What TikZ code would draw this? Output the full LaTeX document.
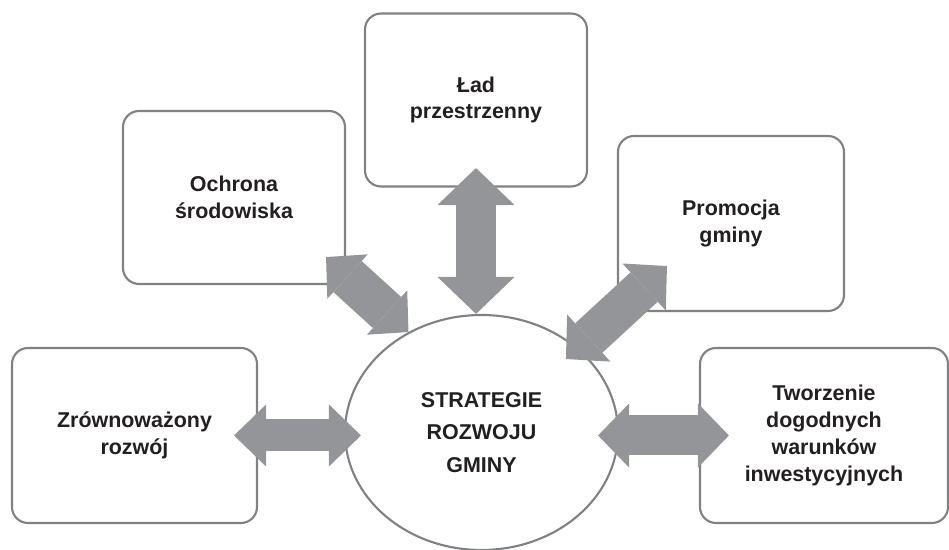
\documentclass[tikz,border=0pt]{standalone}
\usepackage{fontspec}
\setmainfont{Liberation Sans}
\usepackage{tikz}
\usetikzlibrary{arrows.meta,shapes.geometric}
\definecolor{sgborder}{RGB}{128,129,132}
\definecolor{sgarrow}{RGB}{148,149,152}
\definecolor{sgtext}{RGB}{35,31,32}

\begin{document}
\begin{tikzpicture}[
  font=\fontsize{12.2}{15.3}\selectfont\bfseries,
  box/.style={rectangle, rounded corners=3.2mm, draw=sgborder, line width=1.2pt,
    fill=white, text=sgtext, align=center, inner sep=2pt, minimum height=3.5cm},
  hub/.style={ellipse, draw=sgborder, line width=1.2pt, fill=white, text=sgtext,
    align=center, inner sep=0pt, font=\fontsize{12.2}{18.7}\selectfont\bfseries},
  dblarr/.style n args={3}{draw=sgarrow, line width=#1,
    {Triangle[length=#3, width=#2, line width=0pt]}-{Triangle[length=#3, width=#2, line width=0pt]}}
]
\useasboundingbox (0,0) rectangle (18.98,11);

\node[box, minimum width=4.9cm] (zr) at (2.69,2.29) {Zrównoważony\\rozwój};
\node[box, minimum width=4.44cm, minimum height=3.46cm] (och) at (4.68,7.05) {Ochrona\\środowiska};
\node[box, minimum width=4.44cm, minimum height=3.46cm] (lad) at (9.52,9.0) {Ład\\przestrzenny};
\node[box, minimum width=4.52cm] (pro) at (14.62,6.53) {Promocja\\gminy};
\node[box, minimum width=4.96cm] (tw) at (16.48,2.29) {Tworzenie\\dogodnych\\warunków\\inwestycyjnych};
\node[hub, minimum width=5.46cm, minimum height=4.7cm] (str) at (9.63,2.35) {STRATEGIE\\ROZWOJU\\GMINY};

% double arrows between the hub and the boxes
\draw[dblarr={0.64cm}{1.24cm}{0.64cm}] ([xshift=-0.48cm]zr.east) -- ([xshift=0.34cm]zr.east -| str.west);
\draw[dblarr={0.8cm}{1.28cm}{0.62cm}] ([xshift=-0.42cm]str.east |- tw.west) -- ([xshift=0.6cm]tw.west);
\draw[dblarr={0.8cm}{1.54cm}{0.74cm}] ([yshift=0.39cm]lad.south) -- (lad.south |- str.north);
\draw[dblarr={0.84cm}{1.2cm}{0.58cm}] ([xshift=-0.4cm,yshift=0.56cm]och.south east) -- (str.126);
\draw[dblarr={0.8cm}{1.28cm}{0.62cm}] ([xshift=-1.02cm,yshift=-0.94cm]pro.south west) -- ([xshift=1cm,yshift=0.92cm]pro.south west);
\end{tikzpicture}
\end{document}
